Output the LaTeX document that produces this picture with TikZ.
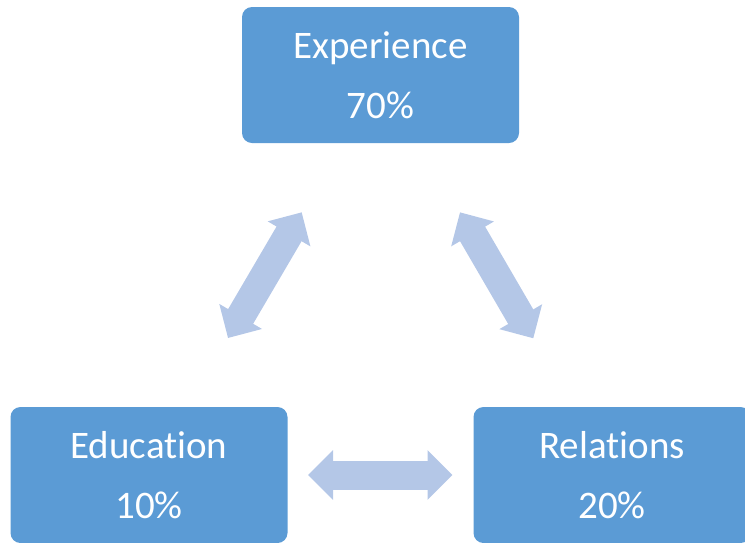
\documentclass[tikz,border=0pt]{standalone}
\usepackage{fontspec}
\setmainfont{Carlito}[Ligatures=NoCommon]
\usetikzlibrary{arrows.meta}
\definecolor{boxblue}{HTML}{5B9BD5}
\definecolor{arrblue}{HTML}{B4C7E7}
\begin{document}
\begin{tikzpicture}[x=1pt,y=-1pt,
  blk/.style={fill=boxblue, rounded corners=10pt, minimum width=277pt, minimum height=136pt, text=white, align=center, font=\fontsize{39}{60}\selectfont},
  dbl/.style={arrblue, line width=29pt, {Triangle[width=48pt,length=25pt]}-{Triangle[width=48pt,length=25pt]}}]
\path[use as bounding box, clip] (0,0) rectangle (745,542);
\node[blk] (exp) at (380.5,75){Experience\\70\%};
\node[blk] (edu) at (149,475){Education\\10\%};
\node[blk] (rel) at (612,475){Relations\\20\%};
\coordinate (a0) at (228,338);
\coordinate (a1) at (301.7,212.3);
\coordinate (b0) at (460,212.3);
\coordinate (b1) at (533.3,338.3);
\coordinate (c0) at (308,475);
\coordinate (c1) at (452.5,475);
\draw[dbl] (a0) -- (a1);
\draw[dbl] (b0) -- (b1);
\draw[dbl] (c0) -- (c1);
\end{tikzpicture}
\end{document}
